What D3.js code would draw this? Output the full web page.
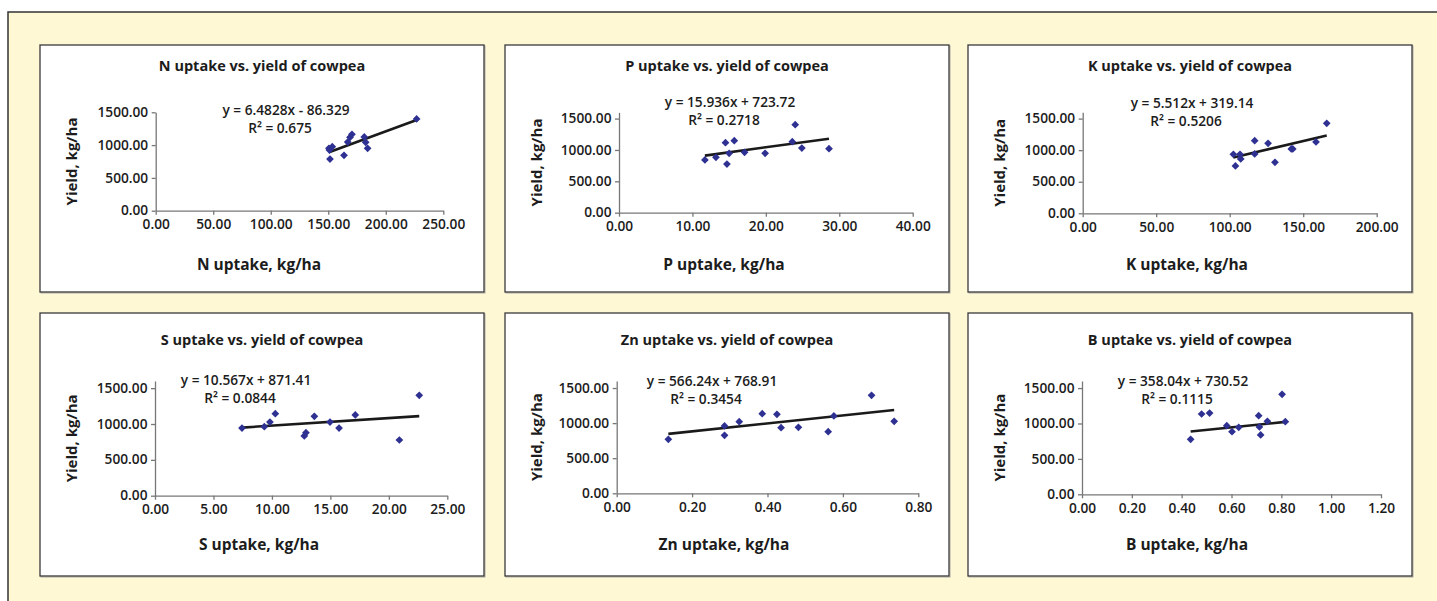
<!DOCTYPE html>
<html>
<head>
<meta charset="utf-8">
<script src="https://cdn.jsdelivr.net/npm/d3@7"></script>
<style>
  body { margin: 0; background: #fff; }
  svg text { font-family: "Open Sans", Lato, sans-serif; fill: #1c1c1c; }
</style>
</head>
<body>
<div id="chart"></div>
<script>
// nutrients, one panel each
const nutrients = ["N", "P", "K", "S", "Zn", "B"]

// uptake (kg/ha) and grain yield (kg/ha), 12 plots per panel
const nUptake = [150.6, 153.5, 151.5, 163.7, 166.9, 168.9, 170.6, 181.3, 182.5, 184.2, 226.8, 151.0]
const nYield = [951, 976, 788, 844, 1047, 1119, 1164, 1124, 1042, 951, 1398, 925]
const pUptake = [11.7, 13.2, 14.5, 14.7, 15.0, 15.7, 17.1, 19.9, 23.6, 24.0, 24.9, 28.6]
const pYield = [840, 883, 1116, 776, 946, 1148, 962, 946, 1132, 1403, 1031, 1021]
const kUptake = [102.5, 103.9, 107.0, 107.5, 117.0, 117.0, 126.1, 130.8, 141.9, 142.9, 158.7, 166.0]
const kYield = [935, 750, 935, 861, 1151, 940, 1109, 808, 1019, 1019, 1130, 1426]
const sUptake = [7.44, 9.35, 9.83, 10.29, 12.77, 12.91, 13.63, 14.97, 15.74, 17.13, 20.9, 22.6]
const sYield = [944, 963, 1028, 1144, 833, 879, 1107, 1028, 944, 1126, 777, 1400]
const znUptake = [0.137, 0.286, 0.286, 0.325, 0.386, 0.425, 0.436, 0.482, 0.561, 0.576, 0.676, 0.736]
const znYield = [769, 959, 826, 1021, 1135, 1125, 935, 940, 878, 1102, 1396, 1026]
const bUptake = [0.436, 0.48, 0.512, 0.581, 0.602, 0.629, 0.709, 0.712, 0.717, 0.744, 0.803, 0.816]
const bYield = [776, 1134, 1148, 969, 885, 946, 1111, 951, 838, 1031, 1412, 1026]

// linear trendlines
const slopes = [6.4828, 15.936, 5.512, 10.567, 566.24, 358.04]
const intercepts = [-86.329, 723.72, 319.14, 871.41, 768.91, 730.52]
const rSquared = ["0.675", "0.2718", "0.5206", "0.0844", "0.3454", "0.1115"]

// axes
const xTicks = [
  [0, 50, 100, 150, 200, 250],
  [0, 10, 20, 30, 40],
  [0, 50, 100, 150, 200],
  [0, 5, 10, 15, 20, 25],
  [0, 0.2, 0.4, 0.6, 0.8],
  [0, 0.2, 0.4, 0.6, 0.8, 1.0, 1.2]
]
const yTicks = [0, 500, 1000, 1500]
const yMax = [1500, 1600, 1600, 1600, 1600, 1600]

const uptakes = [nUptake, pUptake, kUptake, sUptake, znUptake, bUptake]
const yields = [nYield, pYield, kYield, sYield, znYield, bYield]

// ---- layout ----
const width = 1437, height = 601
const panelX = [40, 505, 968]
const panelY = [45, 313]
const panelW = 444
const panelH = [247, 263]
// plot box inside each panel: left, right, top, bottom
const plotBox = [
  [115.7, 403.3, 67.3, 165.7],
  [114, 407.7, 67.3, 167.7],
  [114.7, 408.7, 67.3, 168.3],
  [115, 407.3, 68, 182.7],
  [111.7, 413.3, 68, 180.3],
  [114, 413, 68, 181.3]
]
const eqPos = [[246, 65], [225, 57], [224, 58], [206, 67], [207, 68], [215, 68]]
const titleY = [21, 27]
const xTitleY = [220, 232]

const fmt = d3.format(".2f")

const svg = d3.select("#chart").append("svg")
  .attr("width", width)
  .attr("height", height)

svg.append("rect")
  .attr("x", 8).attr("y", 12)
  .attr("width", width).attr("height", height)
  .attr("fill", "#fff8d5")
  .attr("stroke", "#333")
  .attr("stroke-width", 1.5)

nutrients.forEach((nut, i) => {
  const row = Math.floor(i / 3), col = i % 3
  const [l, r, t, b] = plotBox[i]
  const g = svg.append("g")
    .attr("transform", `translate(${panelX[col]},${panelY[row]})`)

  // panel frame with a faint shadow
  g.append("rect")
    .attr("x", 1).attr("y", 1)
    .attr("width", panelW).attr("height", panelH[row])
    .attr("fill", "none").attr("stroke", "#aaa").attr("stroke-width", 1)
  g.append("rect")
    .attr("width", panelW).attr("height", panelH[row])
    .attr("fill", "#fff").attr("stroke", "#3a3a3a").attr("stroke-width", 1.3)

  const ticks = xTicks[i]
  const x = d3.scaleLinear().domain([0, ticks[ticks.length - 1]]).range([l, r])
  const y = d3.scaleLinear().domain([0, yMax[i]]).range([b, t])

  const xAxis = g.append("g")
    .attr("transform", `translate(0,${b})`)
    .call(d3.axisBottom(x).tickValues(ticks).tickFormat(fmt).tickSize(4).tickSizeOuter(0))
  const yAxis = g.append("g")
    .attr("transform", `translate(${l},0)`)
    .call(d3.axisLeft(y).tickValues(yTicks).tickFormat(fmt).tickSize(4).tickSizeOuter(0))

  for (const ax of [xAxis, yAxis]) {
    ax.selectAll("path, line").attr("stroke", "#777").attr("stroke-width", 1.3)
    ax.selectAll("text")
      .style("font-size", "13.7px")
      .style("font-weight", 600)
      .attr("fill", "#1c1c1c")
  }
  xAxis.selectAll("text").attr("y", 8.5)
  yAxis.selectAll("text").attr("x", -7.5).attr("dy", "0.3em")

  // title and axis titles
  g.append("text")
    .attr("x", panelW / 2).attr("y", titleY[row]).attr("dy", "0.35em")
    .attr("text-anchor", "middle")
    .style("font-size", "14.5px").style("font-weight", 700)
    .text(`${nut} uptake vs. yield of cowpea`)

  g.append("text")
    .attr("x", panelW / 2 - 3).attr("y", xTitleY[row]).attr("dy", "0.35em")
    .attr("text-anchor", "middle")
    .style("font-size", "15.5px").style("font-weight", 700)
    .text(`${nut} uptake, kg/ha`)

  g.append("text")
    .attr("transform", `translate(32,${(t + b) / 2}) rotate(-90)`)
    .attr("dy", "0.35em")
    .attr("text-anchor", "middle")
    .style("font-size", "15px").style("font-weight", 700)
    .text("Yield, kg/ha")

  // trendline over the data range
  const xs = uptakes[i]
  const ext = d3.extent(xs)
  const fit = v => slopes[i] * v + intercepts[i]
  g.append("path")
    .datum(ext)
    .attr("d", d3.line().x(d => x(d)).y(d => y(fit(d))))
    .attr("stroke", "#1a1a1a")
    .attr("stroke-width", 2.6)
    .attr("fill", "none")

  // diamonds
  const pts = xs.map((v, k) => [v, yields[i][k]])
  g.selectAll("path.pt")
    .data(pts)
    .join("path")
    .attr("class", "pt")
    .attr("d", d3.symbol().type(d3.symbolSquare).size(30))
    .attr("transform", d => `translate(${x(d[0])},${y(d[1])}) rotate(45)`)
    .attr("fill", "#2e3192")

  // equation label
  const sign = intercepts[i] < 0 ? "-" : "+"
  const [ex, ey] = eqPos[i]
  g.append("text")
    .attr("x", ex).attr("y", ey).attr("dy", "0.35em")
    .attr("text-anchor", "middle")
    .style("font-size", "13.7px").style("font-weight", 600)
    .text(`y = ${slopes[i]}x ${sign} ${Math.abs(intercepts[i])}`)
  g.append("text")
    .attr("x", ex - 6).attr("y", ey + 18.5).attr("dy", "0.35em")
    .attr("text-anchor", "middle")
    .style("font-size", "13.7px").style("font-weight", 600)
    .text(`R² = ${rSquared[i]}`)
})
</script>
</body>
</html>
